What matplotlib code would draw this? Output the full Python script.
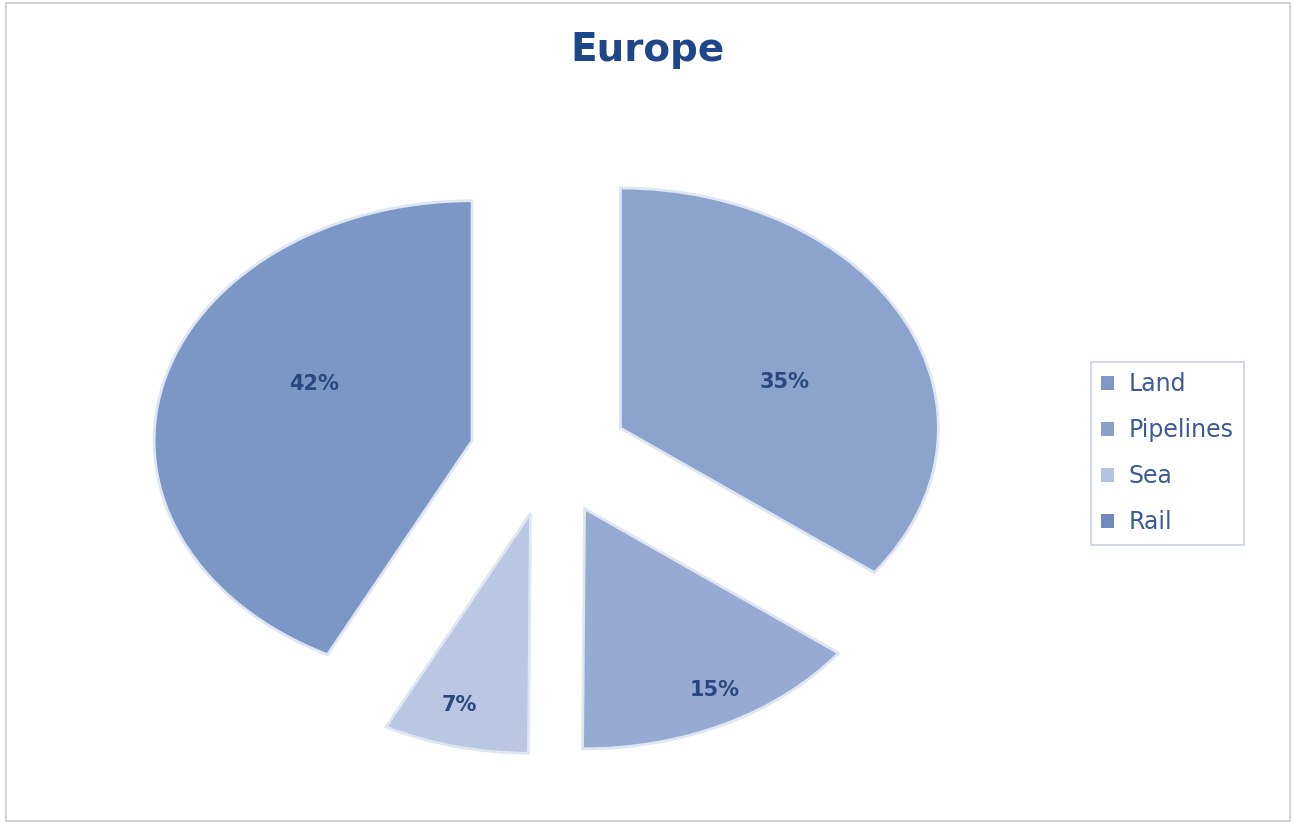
import numpy as np
import matplotlib
matplotlib.use("Agg")
import matplotlib.pyplot as plt
from matplotlib.patches import Rectangle

# data (Land + Pipelines split the pie in half, as in the picture)
labels = ["Land", "Pipelines", "Sea", "Rail"]
values = [35.2, 14.8, 7.4, 42.4]
pct_text = ["35%", "15%", "7%", "42%"]

colors = ["#8ba3cd", "#97abd2", "#b9c7e3", "#7c97c5"]
legend_colors = ["#7f98c4", "#8aa0c9", "#b3c2de", "#6f8bbd"]
label_dist = [0.55, 0.86, 0.83, 0.55]
label_rot = [-6, 2, -2, -12]  # nudges of label angle vs wedge bisector

plt.rcParams['font.family'] = ['DejaVu Sans']

fig = plt.figure(figsize=(12.94, 8.26), dpi=100)
fig.patch.set_facecolor("white")

# light border round the chart area
fig.add_artist(Rectangle((0.005, 0.006), 0.992, 0.99, transform=fig.transFigure,
                         fill=False, edgecolor="#d0d3da", linewidth=1.4))

ax = fig.add_axes([0.056, 0.0133, 0.737, 0.872])
wedges, _ = ax.pie(values, startangle=90, counterclock=False,
                   explode=[0.25] * len(values), colors=colors,
                   wedgeprops=dict(edgecolor="#dfe6f3", linewidth=2.0))
ax.set_aspect("auto")
ax.set_xlim(-1.5, 1.5)
ax.set_ylim(-1.5, 1.5)
ax.axis("off")
for w in wedges:
    w.set_clip_on(False)

# percentage labels
for w, t, d, rot in zip(wedges, pct_text, label_dist, label_rot):
    mid = np.deg2rad((w.theta1 + w.theta2) / 2 + rot)
    cx, cy = w.center
    ax.text(cx + d * np.cos(mid), cy + d * np.sin(mid), t,
            ha="center", va="center", fontsize=15, fontweight="bold",
            color="#2a4780")

fig.text(0.5, 0.94, "Europe", ha="center", va="center",
         fontsize=28, fontweight="bold", color="#1f4688")

handles = [Rectangle((0, 0), 1, 1, facecolor=c, edgecolor="none") for c in legend_colors]
leg = fig.legend(handles, labels, loc="upper left", bbox_to_anchor=(0.843, 0.562),
                 borderaxespad=0, frameon=True, fancybox=False,
                 handlelength=0.55, handleheight=0.5, handletextpad=0.6,
                 labelspacing=0.93, borderpad=0.45, fontsize=17)
leg.get_frame().set_edgecolor("#bcc8df")
leg.get_frame().set_linewidth(1.2)
for txt in leg.get_texts():
    txt.set_color("#3b5a96")

fig.savefig("out.png", dpi=100, facecolor="white")
